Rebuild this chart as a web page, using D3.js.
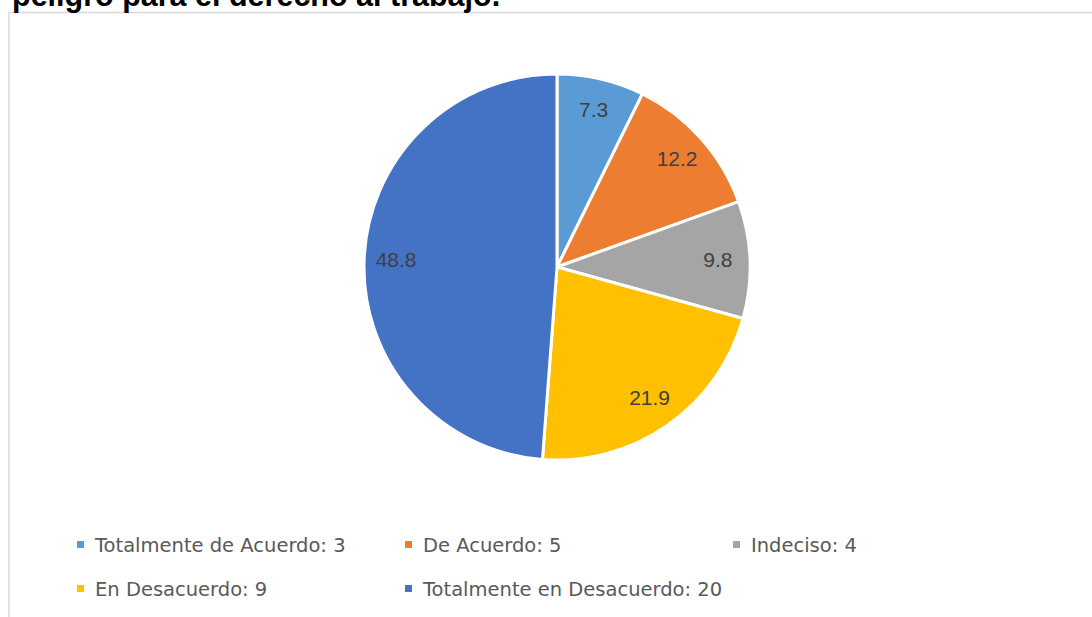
<!DOCTYPE html>
<html>
<head>
<meta charset="utf-8">
<script src="https://cdn.jsdelivr.net/npm/d3@7"></script>
<style>
  body { margin: 0; background: #fff; }
  svg { display: block; }
</style>
</head>
<body>
<div id="chart"></div>
<script>
// chart data
var categories = ["Totalmente de Acuerdo", "De Acuerdo", "Indeciso", "En Desacuerdo", "Totalmente en Desacuerdo"];
var counts = [3, 5, 4, 9, 20];
var percents = [7.3, 12.2, 9.8, 21.9, 48.8];
var colors = ["#5B9BD5", "#ED7D31", "#A5A5A5", "#FFC000", "#4472C4"];

var width = 1092, height = 617;

var svg = d3.select("#chart")
    .append("svg")
    .attr("width", width)
    .attr("height", height);

// chart frame
svg.append("rect")
    .attr("x", 9)
    .attr("y", 12.5)
    .attr("width", 1100)
    .attr("height", 700)
    .style("fill", "#fff")
    .style("stroke", "#d9d9d9")
    .style("stroke-width", 1.5);

// title (its top is clipped in the source picture as well)
svg.append("text")
    .attr("x", 12)
    .attr("y", 6)
    .text("peligro para el derecho al trabajo.")
    .style("font-family", "Liberation Sans, Arial, sans-serif")
    .style("font-weight", "bold")
    .style("font-size", "30.5px")
    .style("fill", "#000");

// pie
var cx = 557, cy = 267, radius = 193;

var pie = d3.pie().sort(null).value(function (d) { return d.value; });
var arc = d3.arc().innerRadius(0).outerRadius(radius);
var labelArc = d3.arc().innerRadius(161).outerRadius(161);

var data = categories.map(function (c, i) {
    return { name: c, value: percents[i], count: counts[i], color: colors[i] };
});

var g = svg.append("g").attr("transform", "translate(" + cx + "," + cy + ")");

var slices = g.selectAll(".slice")
    .data(pie(data))
    .enter().append("g")
    .attr("class", "slice");

slices.append("path")
    .attr("d", arc)
    .style("fill", function (d) { return d.data.color; })
    .style("stroke", "#fff")
    .style("stroke-width", 3)
    .style("stroke-linejoin", "round");

slices.append("text")
    .attr("transform", function (d) { return "translate(" + labelArc.centroid(d) + ")"; })
    .attr("text-anchor", "middle")
    .attr("dy", "0.3em")
    .text(function (d) { return d.data.value.toFixed(1); })
    .style("font-family", "Liberation Sans, Arial, sans-serif")
    .style("font-size", "21px")
    .style("fill", "#404040");

// legend
var legendX = [77, 405, 733];
var legendY = [552, 596];

var legend = svg.selectAll(".legend")
    .data(data)
    .enter().append("g")
    .attr("class", "legend")
    .attr("transform", function (d, i) {
        return "translate(" + legendX[i % 3] + "," + legendY[Math.floor(i / 3)] + ")";
    });

legend.append("rect")
    .attr("x", 0)
    .attr("y", -11)
    .attr("width", 7)
    .attr("height", 7)
    .style("fill", function (d) { return d.color; });

legend.append("text")
    .attr("x", 18)
    .text(function (d) { return d.name + ": " + d.count; })
    .style("font-family", "DejaVu Sans, sans-serif")
    .style("font-size", "19.5px")
    .style("fill", "#595959");
</script>
</body>
</html>
